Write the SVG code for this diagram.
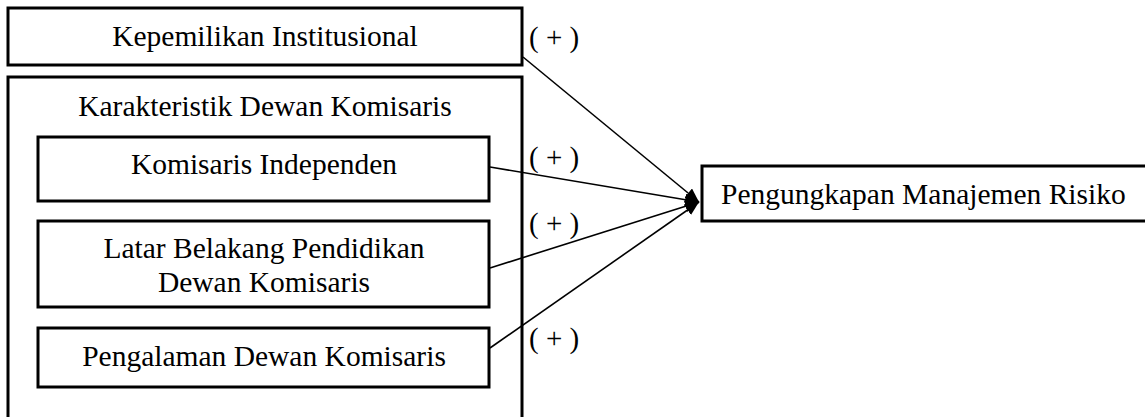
<svg xmlns="http://www.w3.org/2000/svg" width="1145" height="417" viewBox="0 0 1145 417">
  <style>
    .box { fill: #ffffff; stroke: #000000; stroke-width: 3; }
    .txt { font-family: "Liberation Serif", "Times New Roman", serif; font-size: 29.5px; fill: #000000; }
    .mid { text-anchor: middle; }
    .lbl { font-family: "Liberation Serif", "Times New Roman", serif; font-size: 29px; fill: #000000; }
    .conn { stroke: #000000; stroke-width: 1.6; fill: none; }
  </style>
  <defs>
    <marker id="arrow" viewBox="0 0 14 12" refX="14" refY="6" markerWidth="14" markerHeight="12" markerUnits="userSpaceOnUse" orient="auto">
      <path d="M0,0 L14,6 L0,12 z" fill="#000000"/>
    </marker>
  </defs>
  <rect width="1145" height="417" fill="#ffffff"/>

  <g id="kepemilikan-institusional">
    <rect class="box" x="8" y="8" width="514" height="57"/>
    <text class="txt mid" x="265" y="46">Kepemilikan Institusional</text>
  </g>

  <g id="karakteristik-dewan-komisaris">
    <rect class="box" x="8" y="77" width="514" height="360"/>
    <text class="txt mid" x="265" y="116">Karakteristik Dewan Komisaris</text>
  </g>

  <g id="komisaris-independen">
    <rect class="box" x="38" y="137" width="451" height="64"/>
    <text class="txt mid" x="264" y="174">Komisaris Independen</text>
  </g>

  <g id="latar-belakang-pendidikan">
    <rect class="box" x="38" y="221" width="451" height="86"/>
    <text class="txt mid" x="264" y="258">Latar Belakang Pendidikan</text>
    <text class="txt mid" x="264" y="292">Dewan Komisaris</text>
  </g>

  <g id="pengalaman-dewan-komisaris">
    <rect class="box" x="38" y="328" width="451" height="59"/>
    <text class="txt mid" x="264" y="366">Pengalaman Dewan Komisaris</text>
  </g>

  <g id="pengungkapan-manajemen-risiko">
    <rect class="box" x="702" y="166" width="460" height="55"/>
    <text class="txt" x="721" y="204">Pengungkapan Manajemen Risiko</text>
  </g>

  <g id="connectors">
    <line class="conn" x1="523" y1="57" x2="699" y2="202" marker-end="url(#arrow)"/>
    <line class="conn" x1="490" y1="167" x2="699" y2="202" marker-end="url(#arrow)"/>
    <line class="conn" x1="490" y1="268" x2="699" y2="202" marker-end="url(#arrow)"/>
    <line class="conn" x1="490" y1="348" x2="699" y2="202" marker-end="url(#arrow)"/>
    <text class="lbl" x="529" y="47">( + )</text>
    <text class="lbl" x="529" y="167">( + )</text>
    <text class="lbl" x="529" y="233">( + )</text>
    <text class="lbl" x="529" y="348">( + )</text>
  </g>
</svg>
